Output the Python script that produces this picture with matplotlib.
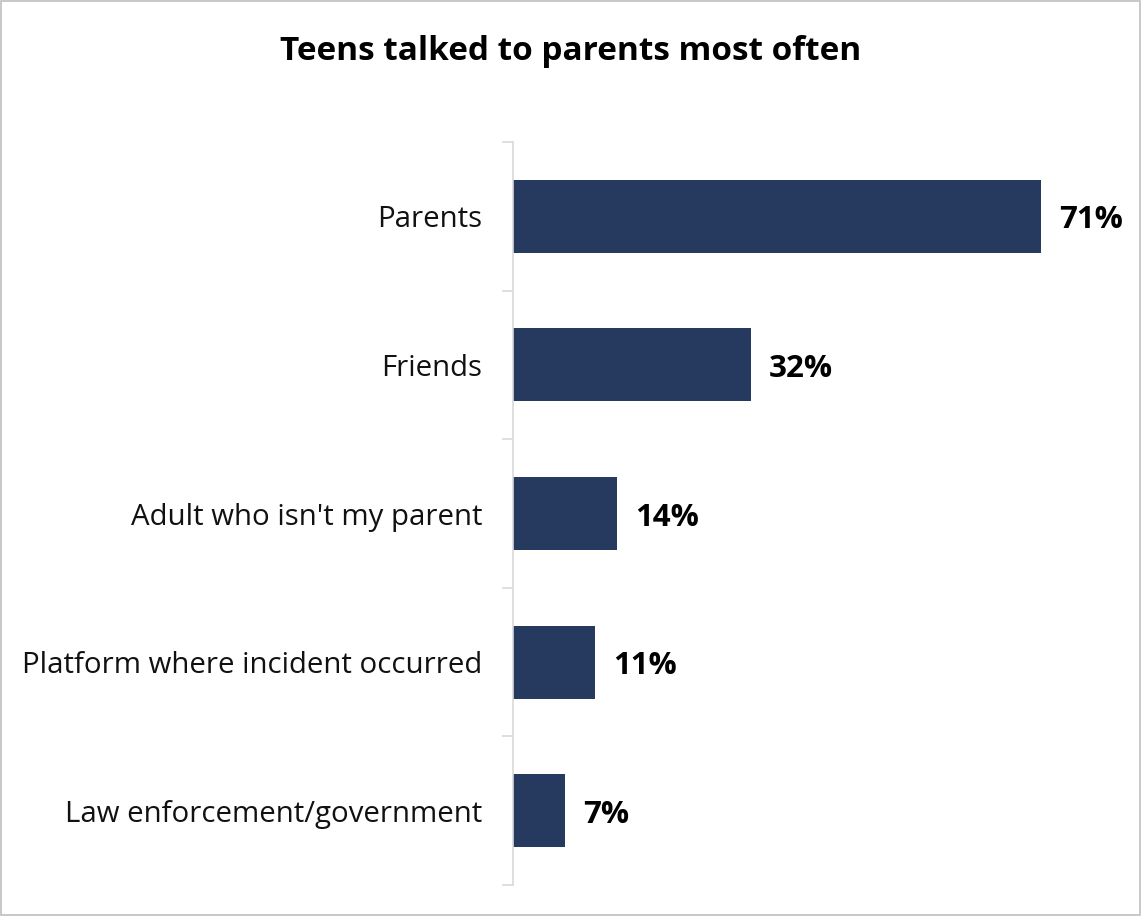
import matplotlib.pyplot as plt

plt.rcParams['font.family'] = ['Open Sans', 'DejaVu Sans']

categories = ['Parents', 'Friends', "Adult who isn't my parent",
              'Platform where incident occurred', 'Law enforcement/government']
values = [71, 32, 14, 11, 7]
value_labels = ['71%', '32%', '14%', '11%', '7%']

bar_color = '#253A5E'
axis_gray = '#D9D9D9'

fig = plt.figure(figsize=(11.42, 9.16), dpi=100)
fig.patches.append(plt.Rectangle((0.0005, 0.0008), 0.998, 0.998, transform=fig.transFigure,
                                 fill=False, edgecolor='#BFBFBF', linewidth=1.2))

ax = fig.add_axes([0.4492, 0.0338, 0.521, 0.8112])
pos = list(range(len(categories)))
ax.barh(pos, values, height=0.49, color=bar_color)
ax.set_ylim(len(categories) - 0.5, -0.5)
ax.set_xlim(0, 80)

# category borders as tick marks
ax.set_yticks([p - 0.5 for p in pos] + [len(categories) - 0.5])
ax.set_yticklabels([])
ax.set_yticks(pos, minor=True)
ax.set_yticklabels(categories, minor=True, fontsize=21.2, color='#111111')
ax.tick_params(axis='y', which='major', length=8, color=axis_gray, width=1.2)
ax.tick_params(axis='y', which='minor', length=0, pad=22)
ax.set_xticks([])

for side in ['top', 'right', 'bottom']:
    ax.spines[side].set_visible(False)
ax.spines['left'].set_color(axis_gray)
ax.spines['left'].set_linewidth(1.2)

for p, v, lab in zip(pos, values, value_labels):
    ax.annotate(lab, (v, p), xytext=(13, -3), textcoords='offset points',
                ha='left', va='center', fontsize=22.5, fontweight='bold', color='black')

fig.text(0.5, 0.944, 'Teens talked to parents most often', ha='center', va='center',
         fontsize=24, fontweight='bold', color='black')

fig.savefig('out.png', dpi=100)
